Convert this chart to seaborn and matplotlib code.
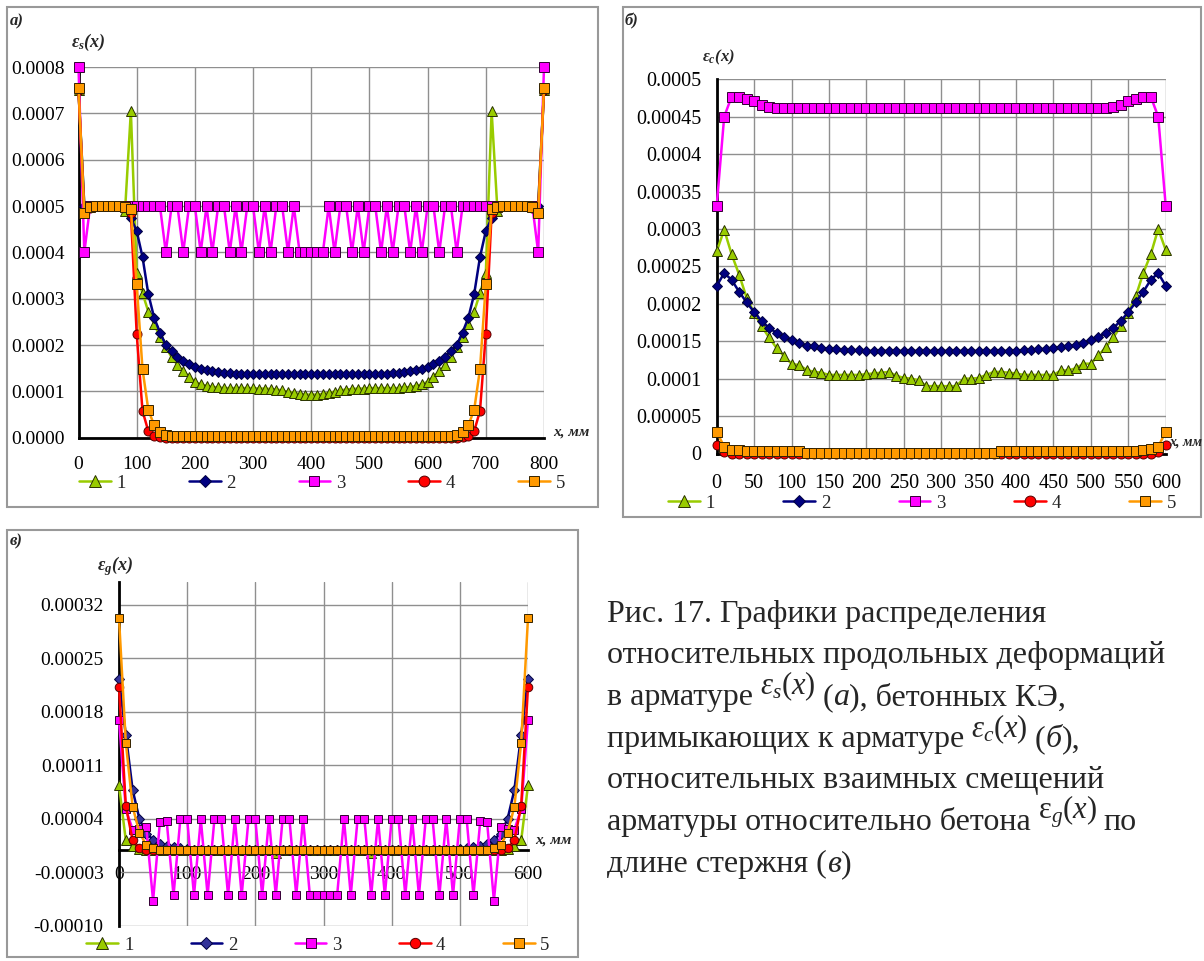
import numpy as np
import matplotlib
matplotlib.use('Agg')
import matplotlib.pyplot as plt
import seaborn as sns
from matplotlib.lines import Line2D
from matplotlib.patches import Rectangle

# --- DATA (strain values in units of 1e-6) ---
SCALE = 1e-6

# panel a: strains in reinforcement, x = 0..800 mm, step 10
x_a = list(range(0, 801, 10))
a_s1 = [750, 500, 500, 500, 500, 500, 500, 500, 490, 705,
        355, 312, 272, 246, 217, 195, 174, 157, 143, 132,
        121, 115, 112, 109, 109, 107, 107, 107, 107, 107,
        107, 106, 106, 105, 104, 102, 99, 97, 94, 93,
        93, 93, 94, 97, 99, 102, 104, 105, 106, 106,
        107, 107, 107, 107, 107, 107, 109, 109, 112, 115,
        121, 132, 143, 157, 174, 195, 217, 246, 272, 312,
        355, 705, 490, 500, 500, 500, 500, 500, 500, 500,
        750]
a_s2 = [750, 500, 500, 500, 500, 500, 500, 500, 500, 474,
        446, 390, 310, 259, 227, 200, 187, 175, 166, 158,
        153, 148, 146, 144, 141, 140, 139, 138, 138, 138,
        138, 138, 138, 138, 138, 138, 138, 138, 138, 138,
        138, 138, 138, 138, 138, 138, 138, 138, 138, 138,
        138, 138, 138, 138, 139, 140, 141, 144, 146, 148,
        153, 158, 166, 175, 187, 200, 227, 259, 310, 390,
        446, 474, 500, 500, 500, 500, 500, 500, 500, 500,
        750]
a_s3 = [800, 400, 500, 500, 500, 500, 500, 500, 500, 500,
        500, 500, 500, 500, 500, 400, 500, 500, 400, 500,
        500, 400, 500, 400, 500, 500, 400, 500, 400, 500,
        500, 400, 500, 400, 500, 500, 400, 500, 400, 400,
        400, 400, 400, 500, 400, 500, 500, 400, 500, 400,
        500, 500, 400, 500, 400, 500, 500, 400, 500, 400,
        500, 500, 400, 500, 500, 400, 500, 500, 500, 500,
        500, 500, 500, 500, 500, 500, 500, 500, 500, 400,
        800]
a_s4 = [750, 485, 495, 500, 500, 500, 500, 500, 500, 485,
        224, 58, 14, 4, 1, 0, 0, 0, 0, 0,
        0, 0, 0, 0, 0, 0, 0, 0, 0, 0,
        0, 0, 0, 0, 0, 0, 0, 0, 0, 0,
        0, 0, 0, 0, 0, 0, 0, 0, 0, 0,
        0, 0, 0, 0, 0, 0, 0, 0, 0, 0,
        0, 0, 0, 0, 0, 0, 1, 4, 14, 58,
        224, 485, 500, 500, 500, 500, 500, 500, 495, 485,
        750]
a_s5 = [755, 485, 498, 500, 500, 500, 500, 500, 498, 493,
        331, 148, 60, 27, 13, 6, 4, 3, 3, 3,
        3, 3, 3, 3, 3, 3, 3, 3, 3, 3,
        3, 3, 3, 3, 3, 3, 3, 3, 3, 3,
        3, 3, 3, 3, 3, 3, 3, 3, 3, 3,
        3, 3, 3, 3, 3, 3, 3, 3, 3, 3,
        3, 3, 3, 3, 4, 6, 13, 27, 60, 148,
        331, 493, 498, 500, 500, 500, 500, 500, 498, 485,
        755]

# panel b: strains in concrete elements next to the bar, x = 0..600 mm
x_b = list(range(0, 601, 10))
b_s1 = [270, 299, 266, 239, 208, 188, 170, 155, 141, 130,
        120, 118, 112, 109, 108, 105, 105, 105, 105, 105,
        106, 107, 108, 109, 104, 101, 100, 98, 90, 90,
        90, 90, 90, 100, 100, 101, 105, 109, 109, 108,
        107, 105, 105, 105, 105, 105, 111, 111, 114, 120,
        120, 131, 142, 155, 170, 188, 210, 241, 266, 300,
        272]
b_s2 = [224, 241, 232, 216, 202, 189, 177, 168, 161, 156,
        151, 147, 144, 143, 141, 140, 139, 138, 138, 138,
        137, 137, 137, 137, 137, 137, 137, 137, 137, 137,
        137, 137, 137, 137, 137, 137, 137, 137, 137, 137,
        137, 138, 138, 139, 140, 141, 142, 143, 145, 148,
        151, 156, 161, 168, 177, 189, 202, 216, 232, 241,
        224]
b_s3 = [331, 450, 477, 477, 474, 471, 466, 463, 461, 461,
        461, 461, 461, 461, 461, 461, 461, 461, 461, 461,
        461, 461, 461, 461, 461, 461, 461, 461, 461, 461,
        461, 461, 461, 461, 461, 461, 461, 461, 461, 461,
        461, 461, 461, 461, 461, 461, 461, 461, 461, 461,
        461, 461, 461, 463, 466, 471, 474, 477, 477, 450,
        331]
b_s4 = [12, 2, 0, 0, 0, 0, 0, 0, -1, -1,
        -1, -1, 0, 0, 0, 0, 0, 0, 0, 0,
        0, 0, 0, 0, 0, 0, 0, 0, 0, 0,
        0, 0, 0, 0, 0, 0, 0, 0, 0, 0,
        0, 0, 0, 0, 0, 0, 0, 0, -1, -1,
        -1, -1, 0, 0, 0, 0, 0, 0, 0, 2,
        12]
b_s5 = [29, 9, 5, 5, 4, 4, 4, 4, 4, 4,
        4, 4, 1, 1, 1, 1, 1, 1, 1, 1,
        1, 1, 1, 1, 1, 1, 1, 1, 1, 1,
        1, 1, 1, 1, 1, 1, 1, 1, 3, 3,
        3, 3, 3, 3, 3, 3, 3, 3, 3, 3,
        3, 3, 3, 3, 3, 3, 3, 5, 6, 9,
        29]

# panel c: relative bar-concrete slip strains, x = 0..600 mm
x_c = list(range(0, 601, 10))
c_s1 = [84, 12, 4, 1, 0, 0, 0, 0, 0, 0,
        0, 0, 0, 0, 0, 0, 0, 0, 0, 0,
        0, 0, 0, -5, 0, 0, 0, 0, 0, 0,
        0, 0, 0, 0, 0, 0, 0, -5, 0, 0,
        0, 0, 0, 0, 0, 0, 0, 0, 0, 0,
        0, 0, 0, 0, 0, 0, 0, 1, 4, 12,
        84]
c_s2 = [223, 150, 78, 40, 21, 13, 7, 5, 3, 2,
        1, 0, 0, 0, 0, 0, 0, 0, 0, 0,
        0, 0, 0, 0, 0, 0, 0, 0, 0, 0,
        0, 0, 0, 0, 0, 0, 0, 0, 0, 0,
        0, 0, 0, 0, 0, 0, 0, 0, 0, 0,
        1, 2, 3, 5, 7, 13, 21, 40, 78, 150,
        223]
c_s3 = [170, 53, 26, 27, 29, -67, 36, 37, -60, 40,
        40, -60, 40, -60, 40, 40, -60, 40, -60, 40,
        40, -60, 40, -60, 40, 40, -60, 40, -60, -60,
        -60, -60, -60, 40, -60, 40, 40, -60, 40, -60,
        40, 40, -60, 40, -60, 40, 40, -60, 40, -60,
        40, 40, -60, 38, 36, -67, 29, 27, 26, 53,
        170]
c_s4 = [213, 57, 12, 2, 0, 0, 0, 0, 0, 0,
        0, 0, 0, 0, 0, 0, 0, 0, 0, 0,
        0, 0, 0, 0, 0, 0, 0, 0, 0, 0,
        0, 0, 0, 0, 0, 0, 0, 0, 0, 0,
        0, 0, 0, 0, 0, 0, 0, 0, 0, 0,
        0, 0, 0, 0, 0, 0, 0, 2, 12, 57,
        213]
c_s5 = [303, 140, 56, 22, 6, 2, -1, -1, -1, -1,
        -1, -1, -1, -1, -1, -1, -1, -1, -1, -1,
        -1, -1, -1, -1, -1, -1, -1, -1, -1, -1,
        -1, -1, -1, -1, -1, -1, -1, -1, -1, -1,
        -1, -1, -1, -1, -1, -1, -1, -1, -1, -1,
        -1, -1, -1, -1, -1, 2, 6, 22, 56, 140,
        303]

legend_labels = ['1', '2', '3', '4', '5']
a_yticks = [0, 0.0001, 0.0002, 0.0003, 0.0004, 0.0005, 0.0006, 0.0007, 0.0008]
a_ylabels = ['0.0000', '0.0001', '0.0002', '0.0003', '0.0004',
             '0.0005', '0.0006', '0.0007', '0.0008']
b_yticks = [0, 0.00005, 0.0001, 0.00015, 0.0002, 0.00025, 0.0003,
            0.00035, 0.0004, 0.00045, 0.0005]
b_ylabels = ['0', '0.00005', '0.0001', '0.00015', '0.0002', '0.00025',
             '0.0003', '0.00035', '0.0004', '0.00045', '0.0005']
c_yticks = [-0.0001, -0.00003, 0.00004, 0.00011, 0.00018, 0.00025, 0.00032]
c_ylabels = ['-0.00010', '-0.00003', '0.00004', '0.00011', '0.00018',
             '0.00025', '0.00032']

# --- STYLE ---
sns.set_style('white')
plt.rcParams['font.family'] = ['Liberation Serif', 'DejaVu Serif']
plt.rcParams['mathtext.fontset'] = 'custom'
plt.rcParams['mathtext.rm'] = 'Liberation Serif'
plt.rcParams['mathtext.it'] = 'Liberation Serif:italic'
plt.rcParams['mathtext.bf'] = 'Liberation Serif:italic:bold'

W, H = 1204, 961
fig = plt.figure(figsize=(W / 100, H / 100), dpi=100)


def fx(px):
    return px / W


def fy(py):
    return 1 - py / H


STYLES = [
    dict(color='#99CC00', marker='^', ms=7.0, mec='#2a3300', mfc='#99CC00'),
    dict(color='#000080', marker='D', ms=5.0, mec='#000040', mfc='#000080'),
    dict(color='#FF00FF', marker='s', ms=6.5, mec='#330033', mfc='#FF00FF'),
    dict(color='#FF0000', marker='o', ms=6.5, mec='#550000', mfc='#FF0000'),
    dict(color='#FF9900', marker='s', ms=6.5, mec='#332200', mfc='#FF9900'),
]
GRID = '#8f8f8f'


def draw_panel(box, x, series, xlim, ylim, xticks, yticks, ylabels, tsize,
               ms_k=1.0, diamond_fill=None):
    ax = fig.add_axes([fx(box[0]), fy(box[3]), fx(box[2]) - fx(box[0]), fy(box[1]) - fy(box[3])])
    for i, (y, st) in enumerate(zip(series, STYLES)):
        mfc = st['mfc'] if (i != 1 or diamond_fill is None) else diamond_fill
        sns.lineplot(x=x, y=np.asarray(y) * SCALE, ax=ax, color=st['color'],
                     marker=st['marker'], markersize=st['ms'] * ms_k,
                     markeredgecolor=st['mec'], markerfacecolor=mfc,
                     markeredgewidth=0.7, linewidth=1.8, estimator=None,
                     clip_on=False, zorder=3 + i)
    ax.set_xlim(*xlim)
    ax.set_ylim(*ylim)
    ax.set_xticks(xticks)
    ax.set_xticklabels([str(t) for t in xticks])
    ax.set_yticks(yticks)
    ax.set_yticklabels(ylabels)
    ax.grid(True, color=GRID, linewidth=1.0)
    ax.set_axisbelow(True)
    for s in ['top', 'right']:
        ax.spines[s].set_visible(False)
    for s in ['left', 'bottom']:
        ax.spines[s].set_color('black')
        ax.spines[s].set_linewidth(2)
        ax.spines[s].set_zorder(2.5)
    ax.set_xlabel('')
    ax.set_ylabel('')
    ax.tick_params(direction='out', length=4, width=1.5, labelsize=tsize, colors='black')
    ax.patch.set_alpha(0)
    return ax


def add_legend(cx, cy, spacing, ms_k=1.0, size=13.5, diamond_fill=None):
    handles = []
    for i, st in enumerate(STYLES):
        mfc = st['mfc'] if (i != 1 or diamond_fill is None) else diamond_fill
        handles.append(Line2D([], [], color=st['color'], marker=st['marker'],
                              ms=st['ms'] * ms_k * 1.2, mec=st['mec'], mfc=mfc,
                              mew=0.7, lw=1.8))
    fig.legend(handles, legend_labels, loc='center', bbox_to_anchor=(fx(cx), fy(cy)),
               ncol=5, frameon=False, fontsize=size, handlelength=1.7,
               handletextpad=0.3, columnspacing=spacing, borderpad=0)


# chart area frames
for x0, y0, x1, y1 in [(7, 7, 598, 507), (623, 7, 1201, 517), (7, 530, 578, 957)]:
    fig.add_artist(Rectangle((fx(x0), fy(y1)), fx(x1) - fx(x0), fy(y0) - fy(y1),
                             transform=fig.transFigure, fill=False,
                             edgecolor='#999999', linewidth=1.5))

# --- PANEL a ---
ax_a = draw_panel((78.5, 67, 544, 437.7), x_a, [a_s1, a_s2, a_s3, a_s4, a_s5],
                  (0, 800), (0, 0.0008), list(range(0, 801, 100)), a_yticks, a_ylabels, 14)
ax_a.tick_params(axis='x', pad=9)
ax_a.tick_params(axis='y', pad=6)
add_legend(322, 483, 3.35)
fig.text(fx(88), fy(42), r'$\mathbf{\varepsilon_s(x)}$', fontsize=13, ha='center', va='center')
fig.text(fx(10), fy(21), 'а)', fontsize=12, fontweight='bold', style='italic', ha='left', va='center')
fig.text(fx(553), fy(432), 'x, мм', fontsize=11, fontweight='bold', style='italic', ha='left', va='center')

# --- PANEL b ---
ax_b = draw_panel((716.7, 79.3, 1165.7, 453.5), x_b, [b_s1, b_s2, b_s3, b_s4, b_s5],
                  (0, 600), (0, 0.0005), list(range(0, 601, 50)), b_yticks, b_ylabels, 14.5)
ax_b.tick_params(axis='x', pad=11)
ax_b.tick_params(axis='y', pad=7)
add_legend(922, 503, 3.65)
fig.text(fx(718), fy(57), r'$\mathbf{\varepsilon_c(x)}$', fontsize=12, ha='center', va='center')
fig.text(fx(625), fy(21), 'б)', fontsize=12, fontweight='bold', style='italic', ha='left', va='center')
fig.text(fx(1169), fy(442), 'x, мм', fontsize=10, fontweight='bold', style='italic', ha='left', va='center')

# --- PANEL c ---
ax_c = draw_panel((119, 582, 528, 926), x_c, [c_s1, c_s2, c_s3, c_s4, c_s5],
                  (0, 600), (-0.00010, 0.00035), list(range(0, 601, 100)), c_yticks, c_ylabels, 14,
                  ms_k=0.95, diamond_fill='#333399')
ax_c.spines['bottom'].set_position(('data', 0))
ax_c.tick_params(axis='x', pad=8)
ax_c.tick_params(axis='y', pad=7)
add_legend(318, 945, 3.05, ms_k=0.95, diamond_fill='#333399')
fig.text(fx(115), fy(566), r'$\mathbf{\varepsilon_g(x)}$', fontsize=13, ha='center', va='center')
fig.text(fx(10), fy(541), 'в)', fontsize=12, fontweight='bold', style='italic', ha='left', va='center')
fig.text(fx(535), fy(840), 'x, мм', fontsize=11, fontweight='bold', style='italic', ha='left', va='center')

# --- CAPTION ---
CAP_SIZE = 23
MATH_SIZE = 22
GAP = 7
caption_lines = [
    (622, [('Рис. 17. Графики распределения', 'normal', 0)]),
    (663, [('относительных продольных деформаций', 'normal', 0)]),
    (705, [('в арматуре', 'normal', 0), (r'$\varepsilon_s(x)$', 'normal', 11),
           ('(', 'normal', 0), ('а', 'italic', 0), ('), бетонных КЭ,', 'normal', 0)]),
    (747, [('примыкающих к арматуре', 'normal', 0), (r'$\varepsilon_c(x)$', 'normal', 10),
           ('(', 'normal', 0), ('б', 'italic', 0), ('),', 'normal', 0)]),
    (788, [('относительных взаимных смещений', 'normal', 0)]),
    (830, [('арматуры относительно бетона', 'normal', 0), (r'$\mathrm{\varepsilon}_g(x)$', 'normal', 11),
           ('по', 'normal', 0)]),
    (872, [('длине стержня (', 'normal', 0), ('в', 'italic', 0), (')', 'normal', 0)]),
]
renderer = fig.canvas.get_renderer()
for base, runs in caption_lines:
    xpos = 607
    prev = None
    for text, style, dy in runs:
        if prev is not None and not (prev.endswith('(') or text.startswith(')') or prev in ('а', 'б', 'в')):
            xpos += GAP
        size = MATH_SIZE if text.startswith('$') else CAP_SIZE
        t = fig.text(fx(xpos), fy(base - dy), text, fontsize=size, style=style,
                     ha='left', va='baseline')
        xpos += t.get_window_extent(renderer).width
        prev = text

fig.savefig('out.png', dpi=100)
